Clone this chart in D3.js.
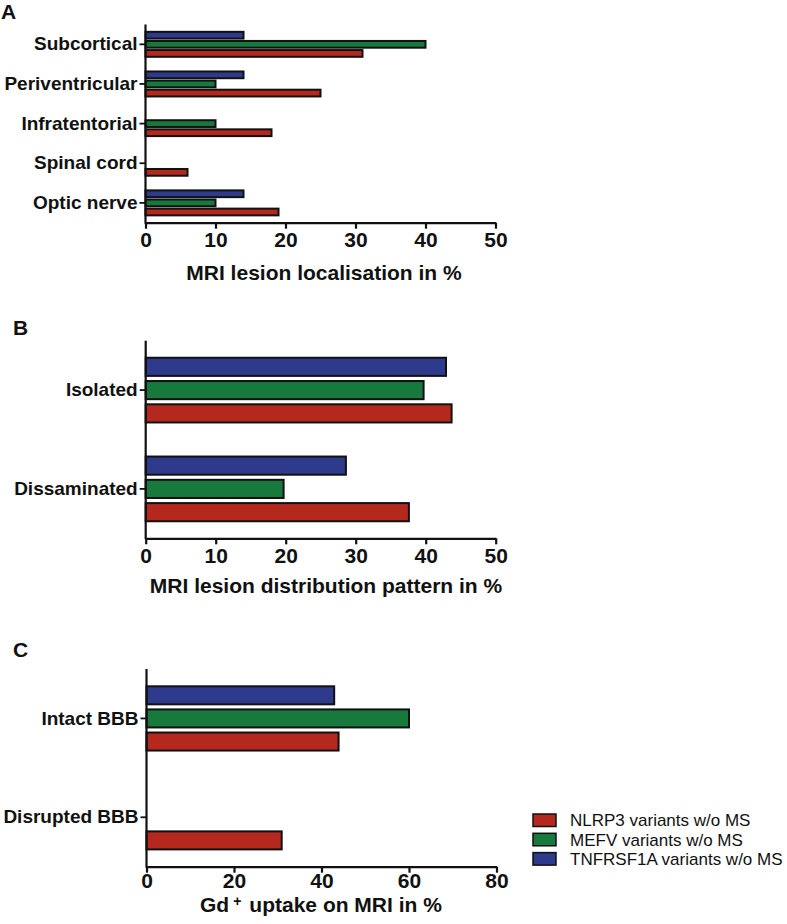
<!DOCTYPE html>
<html>
<head>
<meta charset="utf-8">
<script src="https://cdn.jsdelivr.net/npm/d3@7"></script>
<style>
  html, body { margin: 0; padding: 0; background: #fff; }
  svg { display: block; }
  text { font-family: "Liberation Sans", Arial, Helvetica, sans-serif; fill: #111; }
</style>
</head>
<body>
<svg id="chart" width="787" height="924"></svg>
<script>
// ---- Data ----
const series = ["TNFRSF1A variants w/o MS", "MEFV variants w/o MS", "NLRP3 variants w/o MS"];
const seriesColors = ["#2e3a8c", "#177a3c", "#b5281e"];

const categoriesA = ["Subcortical", "Periventricular", "Infratentorial", "Spinal cord", "Optic nerve"];
const tnfA   = [14, 14, 0, 0, 14];
const mefvA  = [40, 10, 10, 0, 10];
const nlrp3A = [31, 25, 18, 6, 19];
const ticksA = [0, 10, 20, 30, 40, 50];

const categoriesB = ["Isolated", "Dissaminated"];
const tnfB   = [42.9, 28.6];
const mefvB  = [39.7, 19.7];
const nlrp3B = [43.7, 37.6];
const ticksB = [0, 10, 20, 30, 40, 50];

const categoriesC = ["Intact BBB", "Disrupted BBB"];
const tnfC   = [42.9, 0];
const mefvC  = [60, 0];
const nlrp3C = [43.9, 30.9];
const ticksC = [0, 20, 40, 60, 80];

const legendOrder = ["NLRP3 variants w/o MS", "MEFV variants w/o MS", "TNFRSF1A variants w/o MS"];

const svg = d3.select("#chart");

function panel(opt) {
  const g = svg.append("g");
  const x = d3.scaleLinear().domain([0, d3.max(opt.ticks)]).range([opt.x0, opt.x0 + 350]);
  const y = d3.scaleBand().domain(opt.categories).range([opt.yTop, opt.yBottom]).padding(0);
  const inner = opt.innerFrac * y.bandwidth();
  const sub = d3.scaleBand().domain(series).range([-inner / 2, inner / 2]).paddingInner(opt.subPad);

  const rows = [];
  opt.categories.forEach((c, i) => {
    opt.values.forEach((vals, si) => {
      rows.push({ cat: c, s: series[si], v: vals[i], color: seriesColors[si] });
    });
  });

  g.selectAll("rect.bar").data(rows.filter(d => d.v > 0)).join("rect")
    .attr("class", "bar")
    .attr("x", x(0))
    .attr("y", d => y(d.cat) + y.bandwidth() / 2 + sub(d.s))
    .attr("width", d => x(d.v) - x(0))
    .attr("height", sub.bandwidth())
    .attr("fill", d => d.color)
    .attr("stroke", "#111")
    .attr("stroke-width", 2);

  // x axis
  const xa = g.append("g").attr("transform", `translate(0,${opt.yBottom})`)
    .call(d3.axisBottom(x).tickValues(opt.ticks).tickSize(6).tickPadding(5).tickSizeOuter(0));
  xa.select(".domain").attr("stroke", "#111").attr("stroke-width", 2.2);
  xa.selectAll(".tick line").attr("stroke", "#111").attr("stroke-width", 2.2);
  xa.selectAll(".tick text").attr("font-size", 21).attr("font-weight", "bold")
    .attr("fill", "#111").attr("font-family", "Liberation Sans, Arial, sans-serif")
    .attr("dy", null).attr("y", opt.tickLabelDy);

  // y axis
  const ya = g.append("g").attr("transform", `translate(${opt.x0},0)`)
    .call(d3.axisLeft(y).tickSize(6).tickPadding(2).tickSizeOuter(0));
  ya.select(".domain").attr("stroke", "#111").attr("stroke-width", 2.2)
    .attr("d", `M0,${opt.yTop}V${opt.yBottom + 1}`);
  ya.selectAll(".tick line").attr("stroke", "#111").attr("stroke-width", 1.8);
  ya.selectAll(".tick text").attr("font-size", 19).attr("font-weight", "bold")
    .attr("fill", "#111").attr("font-family", "Liberation Sans, Arial, sans-serif");

  // panel letter
  g.append("text").attr("x", opt.letterX).attr("y", opt.letterY)
    .attr("font-size", 21).attr("font-weight", "bold").text(opt.letter);

  return { g, x };
}

const A = panel({
  categories: categoriesA, values: [tnfA, mefvA, nlrp3A], ticks: ticksA,
  x0: 145.5, yTop: 24.5, yBottom: 222.7, innerFrac: 0.63, subPad: 0.26,
  tickLabelDy: 24, letter: "A", letterX: 1, letterY: 19
});
A.g.append("text").attr("x", 324).attr("y", 280).attr("text-anchor", "middle")
  .attr("font-size", 21).attr("font-weight", "bold").text("MRI lesion localisation in %");

const B = panel({
  categories: categoriesB, values: [tnfB, mefvB, nlrp3B], ticks: ticksB,
  x0: 145.7, yTop: 340.7, yBottom: 538.3, innerFrac: 0.655, subPad: 0.22,
  tickLabelDy: 24.5, letter: "B", letterX: 13, letterY: 335
});
B.g.append("text").attr("x", 326).attr("y", 593).attr("text-anchor", "middle")
  .attr("font-size", 21).attr("font-weight", "bold").text("MRI lesion distribution pattern in %");

const C = panel({
  categories: categoriesC, values: [tnfC, mefvC, nlrp3C], ticks: ticksC,
  x0: 146.5, yTop: 669, yBottom: 866.7, innerFrac: 0.65, subPad: 0.22,
  tickLabelDy: 21.5, letter: "C", letterX: 13, letterY: 657
});
const ct = C.g.append("text").attr("x", 200).attr("y", 912)
  .attr("font-size", 21).attr("font-weight", "bold");
ct.append("tspan").text("Gd");
ct.append("tspan").attr("font-size", 14).attr("dy", -6.5).attr("dx", 4).text("+");
ct.append("tspan").attr("dy", 6.5).attr("dx", 8).text("uptake on MRI in %");

// legend
const leg = svg.append("g").attr("transform", "translate(533,814)");
const li = leg.selectAll("g").data(legendOrder).join("g")
  .attr("transform", (d, i) => `translate(0,${i * 19.3})`);
li.append("rect").attr("width", 23).attr("height", 12.5)
  .attr("fill", d => seriesColors[series.indexOf(d)])
  .attr("stroke", "#111").attr("stroke-width", 1.5);
li.append("text").attr("x", 37).attr("y", 12.3).attr("font-size", 17).text(d => d);
</script>
</body>
</html>
